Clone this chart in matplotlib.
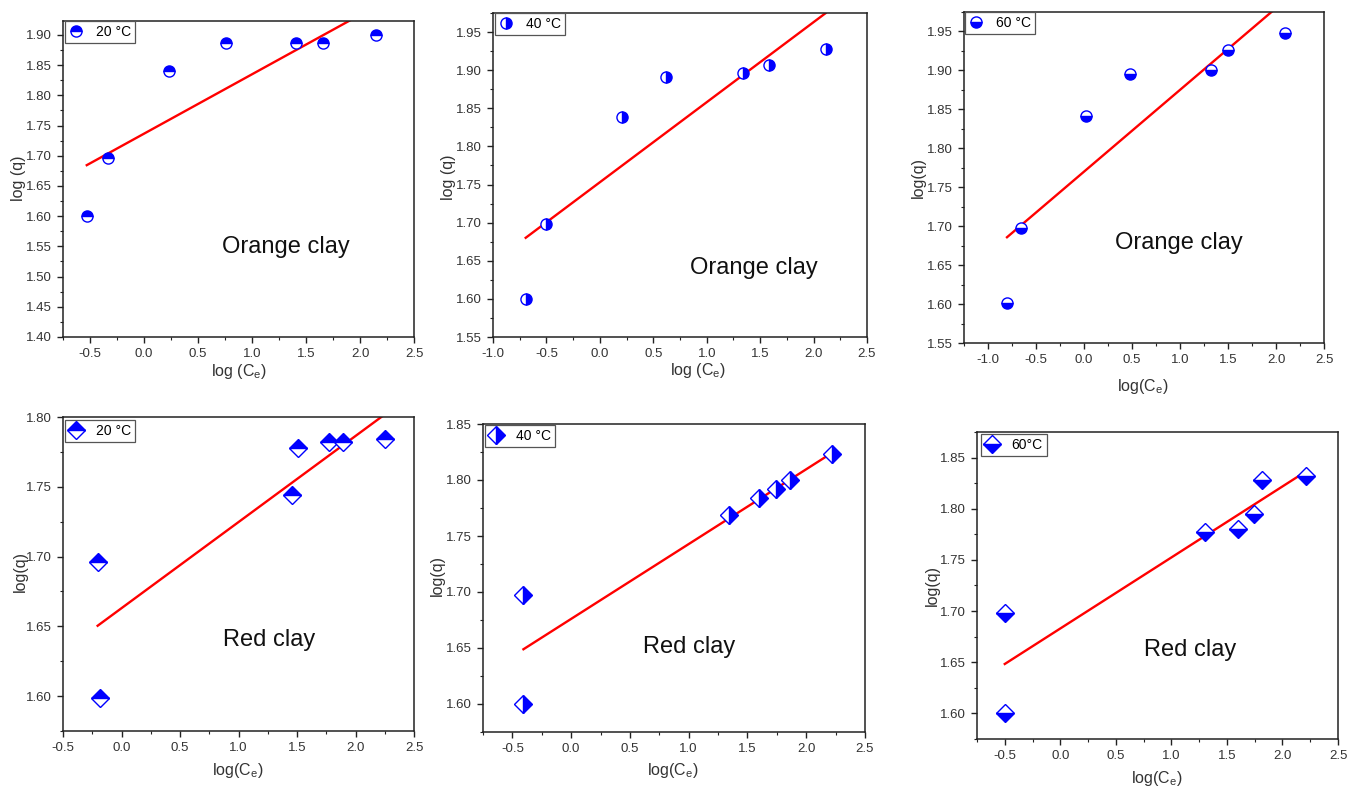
import matplotlib
matplotlib.use("Agg")
import matplotlib.pyplot as plt
import numpy as np
from matplotlib.ticker import MultipleLocator, FormatStrFormatter

plt.rcParams['font.family'] = ['Liberation Sans', 'DejaVu Sans']

# ---------------- data ----------------
oc20_x = [-0.53, -0.33, 0.23, 0.76, 1.41, 1.66, 2.15]
oc20_y = [1.600, 1.697, 1.840, 1.887, 1.887, 1.886, 1.900]
oc20_fit = [1.7365, 0.0983]   # intercept, slope

oc40_x = [-0.694, -0.506, 0.203, 0.618, 1.343, 1.58, 2.112]
oc40_y = [1.600, 1.698, 1.839, 1.891, 1.896, 1.907, 1.928]
oc40_fit = [1.753, 0.105]

oc60_x = [-0.802, -0.656, 0.025, 0.484, 1.325, 1.503, 2.094]
oc60_y = [1.601, 1.698, 1.842, 1.896, 1.901, 1.926, 1.948]
oc60_fit = [1.770, 0.105]

rc20_x = [-0.204, -0.182, 1.460, 1.505, 1.770, 1.895, 2.250]
rc20_y = [1.696, 1.599, 1.744, 1.778, 1.782, 1.782, 1.784]
rc20_fit = [1.663, 0.0617]

rc40_x = [-0.406, -0.406, 1.343, 1.598, 1.746, 1.860, 2.223]
rc40_y = [1.697, 1.600, 1.769, 1.784, 1.792, 1.800, 1.823]
rc40_fit = [1.676, 0.0668]

rc60_x = [-0.494, -0.500, 1.303, 1.596, 1.746, 1.815, 2.216]
rc60_y = [1.698, 1.600, 1.777, 1.780, 1.795, 1.828, 1.832]
rc60_fit = [1.683, 0.0694]

legend_labels = ["20 °C", "40 °C", "60 °C", "20 °C", "40 °C", "60°C"]
clay_labels = ["Orange clay", "Orange clay", "Orange clay", "Red clay", "Red clay", "Red clay"]
xlabels = ["log (C$_\\mathregular{e}$)", "log (C$_\\mathregular{e}$)", "log(C$_\\mathregular{e}$)",
           "log(C$_\\mathregular{e}$)", "log(C$_\\mathregular{e}$)", "log(C$_\\mathregular{e}$)"]
ylabels = ["log (q)", "log (q)", "log(q)", "log(q)", "log(q)", "log(q)"]

# ---------------- layout (pixels) ----------------
W, H = 1349, 787
fig = plt.figure(figsize=(W / 100, H / 100), dpi=100)

def fx(px):
    return px / W

def fy(py):
    return 1 - py / H

panels = [
    dict(box=(63, 21, 414, 337), xlim=(-0.75, 2.5), ylim=(1.40, 1.923), fs='top', m='o',
         xl=(239, 372), yl=(18, 178), tx=(286, 247), leg=(65, 21)),
    dict(box=(493, 13, 867, 337), xlim=(-1.0, 2.5), ylim=(1.55, 1.975), fs='right', m='o',
         xl=(698, 370), yl=(448, 177), tx=(754, 268), leg=(495, 13)),
    dict(box=(964, 12, 1324, 343), xlim=(-1.25, 2.5), ylim=(1.55, 1.975), fs='bottom', m='o',
         xl=(1143, 386), yl=(918, 178), tx=(1179, 243), leg=(965, 12)),
    dict(box=(63, 417, 414, 731), xlim=(-0.5, 2.5), ylim=(1.575, 1.80), fs='top', m='D',
         xl=(238, 770), yl=(20, 572), tx=(269, 640), leg=(65, 420)),
    dict(box=(483, 424, 865, 732), xlim=(-0.75, 2.5), ylim=(1.575, 1.85), fs='right', m='D',
         xl=(673, 770), yl=(437, 575), tx=(689, 647), leg=(485, 425)),
    dict(box=(977, 432, 1338, 739), xlim=(-0.75, 2.5), ylim=(1.575, 1.875), fs='bottom', m='D',
         xl=(1157, 779), yl=(932, 585), tx=(1190, 650), leg=(981, 434)),
]

series = [(oc20_x, oc20_y, oc20_fit), (oc40_x, oc40_y, oc40_fit), (oc60_x, oc60_y, oc60_fit),
          (rc20_x, rc20_y, rc20_fit), (rc40_x, rc40_y, rc40_fit), (rc60_x, rc60_y, rc60_fit)]

BLUE = '#0000ff'
for i, (p, (xs, ys, fit)) in enumerate(zip(panels, series)):
    l, t, r, b = p['box']
    ax = fig.add_axes([fx(l), fy(b), fx(r - l), (b - t) / H])
    ax.set_xlim(*p['xlim'])
    ax.set_ylim(*p['ylim'])

    xs = np.asarray(xs)
    ys = np.asarray(ys)
    xf = np.array([xs.min(), xs.max()])
    yf = fit[0] + fit[1] * xf
    ax.plot(xf, yf, color='#ff0000', lw=1.7, zorder=2)

    ms = 8 if p['m'] == 'o' else 9
    ax.plot(xs, ys, linestyle='none', marker=p['m'], ms=ms, fillstyle=p['fs'],
            markerfacecolor=BLUE, markerfacecoloralt='white', markeredgecolor=BLUE,
            markeredgewidth=1.0, zorder=3, label=legend_labels[i], clip_on=False)

    ax.xaxis.set_major_locator(MultipleLocator(0.5))
    ax.xaxis.set_minor_locator(MultipleLocator(0.25))
    ax.yaxis.set_major_locator(MultipleLocator(0.05))
    ax.yaxis.set_minor_locator(MultipleLocator(0.025))
    ax.xaxis.set_major_formatter(FormatStrFormatter('%.1f'))
    ax.yaxis.set_major_formatter(FormatStrFormatter('%.2f'))
    ax.tick_params(which='both', direction='out', top=False, right=False, labelsize=9.5,
                   colors='#222222', labelcolor='#333333')
    ax.tick_params(which='major', length=4.5, width=1.0)
    ax.tick_params(which='minor', length=2.5, width=0.8)
    for s in ax.spines.values():
        s.set_linewidth(1.1)
        s.set_color('#222222')

    ax.set_xlabel(xlabels[i], fontsize=11.5, color='#333333', va='center')
    ax.set_ylabel(ylabels[i], fontsize=11.5, color='#333333', va='center')
    ax.xaxis.set_label_coords(fx(p['xl'][0]), fy(p['xl'][1]), transform=fig.transFigure)
    ax.yaxis.set_label_coords(fx(p['yl'][0]), fy(p['yl'][1]), transform=fig.transFigure)

    fig.text(fx(p['tx'][0]), fy(p['tx'][1]), clay_labels[i], fontsize=17, ha='center', va='center',
             color='#111111')

    lx, ly = p['leg']
    leg = ax.legend(loc='upper left', bbox_to_anchor=(fx(lx), fy(ly)), bbox_transform=fig.transFigure,
                    borderaxespad=0, fontsize=10, frameon=True, fancybox=False, framealpha=1,
                    edgecolor='#555555', numpoints=1, handlelength=1.0, handletextpad=0.9,
                    borderpad=0.3)
    leg.get_frame().set_linewidth(0.9)

fig.savefig('out.png', dpi=100)
